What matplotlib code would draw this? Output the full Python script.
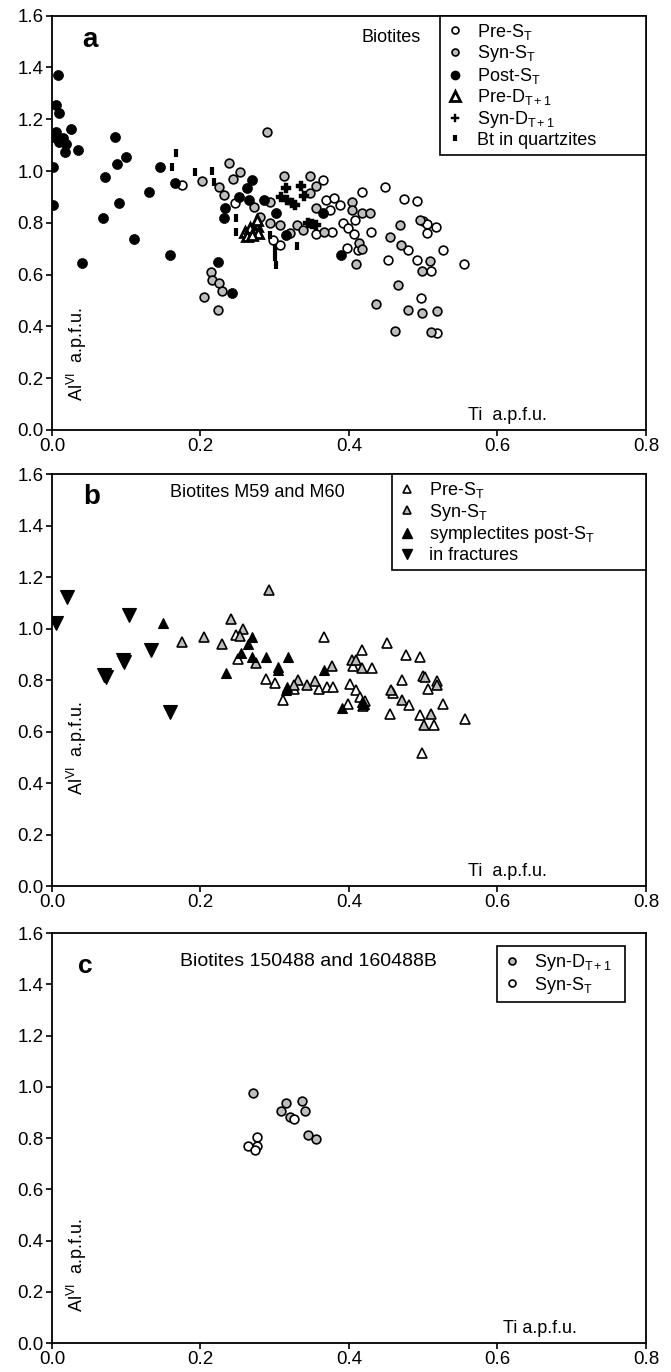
import matplotlib
matplotlib.use('Agg')
import matplotlib.pyplot as plt
from matplotlib.lines import Line2D
from matplotlib.ticker import FormatStrFormatter

plt.rcParams['font.family'] = ['Liberation Sans', 'DejaVu Sans']
plt.rcParams['mathtext.fontset'] = 'custom'
plt.rcParams['mathtext.rm'] = 'Liberation Sans'
plt.rcParams['mathtext.it'] = 'Liberation Sans:italic'
plt.rcParams['mathtext.bf'] = 'Liberation Sans:bold'

# ---------------- data: panel a ----------------
pre_st_a_x = [0.175, 0.247, 0.365, 0.417, 0.448, 0.369, 0.380, 0.388, 0.374, 0.408, 0.392, 0.399,
              0.407, 0.429, 0.356, 0.377, 0.397, 0.412, 0.453, 0.474, 0.492, 0.480, 0.492, 0.511,
              0.526, 0.555, 0.500, 0.505, 0.517, 0.497, 0.518, 0.307, 0.505, 0.297]
pre_st_a_y = [0.946, 0.875, 0.965, 0.920, 0.937, 0.888, 0.895, 0.869, 0.849, 0.811, 0.798, 0.779,
              0.757, 0.766, 0.756, 0.766, 0.702, 0.694, 0.656, 0.891, 0.884, 0.695, 0.656, 0.615,
              0.695, 0.641, 0.806, 0.759, 0.785, 0.508, 0.376, 0.716, 0.795, 0.735]

syn_st_a_x = [0.289, 0.238, 0.253, 0.244, 0.202, 0.225, 0.231, 0.272, 0.294, 0.280, 0.294, 0.307,
              0.312, 0.348, 0.356, 0.347, 0.356, 0.330, 0.338, 0.366, 0.321, 0.404, 0.404, 0.417,
              0.428, 0.413, 0.418, 0.410, 0.469, 0.455, 0.470, 0.509, 0.499, 0.466, 0.436, 0.480,
              0.499, 0.519, 0.462, 0.510, 0.214, 0.215, 0.225, 0.229, 0.205, 0.224, 0.495]
syn_st_a_y = [1.149, 1.030, 0.997, 0.968, 0.963, 0.937, 0.907, 0.862, 0.881, 0.824, 0.798, 0.792,
              0.981, 0.981, 0.942, 0.916, 0.856, 0.792, 0.772, 0.766, 0.759, 0.882, 0.849, 0.837,
              0.839, 0.721, 0.698, 0.641, 0.792, 0.746, 0.714, 0.654, 0.615, 0.560, 0.486, 0.463,
              0.450, 0.461, 0.383, 0.380, 0.611, 0.579, 0.566, 0.538, 0.515, 0.463, 0.811]

post_st_a_x = [0.008, 0.005, 0.010, 0.006, 0.002, 0.015, 0.025, 0.009, 0.019, 0.018, 0.035, 0.001,
               0.001, 0.040, 0.069, 0.090, 0.111, 0.159, 0.085, 0.071, 0.087, 0.100, 0.131, 0.145,
               0.166, 0.252, 0.262, 0.269, 0.266, 0.285, 0.302, 0.233, 0.232, 0.365, 0.315, 0.389,
               0.224, 0.243]
post_st_a_y = [1.371, 1.255, 1.223, 1.152, 1.132, 1.126, 1.161, 1.113, 1.105, 1.075, 1.081, 1.017,
               0.869, 0.646, 0.820, 0.875, 0.737, 0.676, 1.132, 0.978, 1.027, 1.053, 0.918, 1.017,
               0.952, 0.901, 0.933, 0.965, 0.888, 0.888, 0.839, 0.856, 0.817, 0.837, 0.753, 0.676,
               0.650, 0.530]

pre_dt1_a_x = [0.260, 0.267, 0.276, 0.273, 0.278, 0.262, 0.269, 0.276]
pre_dt1_a_y = [0.766, 0.779, 0.788, 0.766, 0.760, 0.749, 0.753, 0.810]

syn_dt1_a_x = [0.315, 0.309, 0.316, 0.323, 0.327, 0.335, 0.339, 0.345, 0.350, 0.355]
syn_dt1_a_y = [0.933, 0.901, 0.888, 0.875, 0.869, 0.942, 0.903, 0.800, 0.795, 0.790]

bt_qz_a_x = [0.167, 0.161, 0.193, 0.215, 0.218, 0.248, 0.248, 0.294, 0.330, 0.301, 0.302, 0.300]
bt_qz_a_y = [1.068, 1.017, 0.997, 1.000, 0.959, 0.817, 0.766, 0.753, 0.710, 0.669, 0.637, 0.700]

# ---------------- data: panel b ----------------
fract_b_x = [0.005, 0.020, 0.104, 0.070, 0.073, 0.095, 0.097, 0.134, 0.159]
fract_b_y = [1.021, 1.124, 1.054, 0.820, 0.812, 0.878, 0.870, 0.917, 0.676]

sympl_b_x = [0.149, 0.270, 0.264, 0.255, 0.269, 0.288, 0.318, 0.305, 0.304, 0.235, 0.366, 0.315,
             0.317, 0.391, 0.418, 0.420]
sympl_b_y = [1.023, 0.967, 0.941, 0.905, 0.891, 0.891, 0.891, 0.852, 0.840, 0.827, 0.840, 0.763,
             0.772, 0.691, 0.714, 0.706]

pre_st_b_x = [0.248, 0.251, 0.367, 0.288, 0.300, 0.359, 0.370, 0.379, 0.311, 0.326, 0.418, 0.406,
              0.431, 0.401, 0.410, 0.415, 0.421, 0.399, 0.451, 0.477, 0.495, 0.471, 0.500, 0.519,
              0.507, 0.459, 0.481, 0.455, 0.527, 0.495, 0.514, 0.556, 0.499]
pre_st_b_y = [0.975, 0.880, 0.967, 0.805, 0.788, 0.766, 0.774, 0.774, 0.722, 0.766, 0.917, 0.854,
              0.845, 0.784, 0.761, 0.733, 0.720, 0.706, 0.945, 0.898, 0.891, 0.800, 0.816, 0.796,
              0.766, 0.749, 0.703, 0.668, 0.706, 0.664, 0.625, 0.647, 0.518]

syn_st_b_x = [0.292, 0.241, 0.205, 0.229, 0.257, 0.253, 0.275, 0.331, 0.326, 0.343, 0.354, 0.377,
              0.404, 0.410, 0.418, 0.419, 0.502, 0.519, 0.457, 0.472, 0.511, 0.501, 0.175]
syn_st_b_y = [1.150, 1.038, 0.968, 0.940, 1.000, 0.970, 0.867, 0.800, 0.780, 0.781, 0.798, 0.854,
              0.876, 0.876, 0.845, 0.700, 0.810, 0.780, 0.761, 0.722, 0.668, 0.625, 0.949]

# ---------------- data: panel c ----------------
syn_dt1_c_x = [0.271, 0.315, 0.309, 0.337, 0.341, 0.321, 0.345, 0.356]
syn_dt1_c_y = [0.976, 0.935, 0.906, 0.945, 0.906, 0.883, 0.811, 0.796]
syn_st_c_x = [0.326, 0.276, 0.276, 0.264, 0.273]
syn_st_c_y = [0.874, 0.803, 0.768, 0.768, 0.752]

xticks = [0.0, 0.2, 0.4, 0.6, 0.8]
yticks = [0.0, 0.2, 0.4, 0.6, 0.8, 1.0, 1.2, 1.4, 1.6]

GRAY = '#bdbdbd'
ST = '$_\\mathregular{T}$'
DT = '$_\\mathregular{T+1}$'
YLAB = 'Al$^\\mathregular{VI}$  a.p.f.u.'
FS = 13

fig = plt.figure(figsize=(6.71, 13.72), dpi=100)
ax_a = fig.add_axes([0.0775, 0.6866, 0.8852, 0.302])
ax_b = fig.add_axes([0.0775, 0.3542, 0.8852, 0.3003])
ax_c = fig.add_axes([0.0775, 0.0211, 0.8852, 0.2988])


def style(ax):
    ax.set_xlim(0, 0.8)
    ax.set_ylim(0, 1.6)
    ax.set_xticks(xticks)
    ax.set_yticks(yticks)
    ax.xaxis.set_major_formatter(FormatStrFormatter('%.1f'))
    ax.yaxis.set_major_formatter(FormatStrFormatter('%.1f'))
    for s in ax.spines.values():
        s.set_linewidth(1.3)
    ax.tick_params(direction='out', length=4.5, width=1.2, labelsize=13.5, pad=1.5)


def mk(ax, x, y, **kw):
    ax.plot(x, y, ls='none', **kw)


def leg(ax, handles, labels, x0, w, top=1.0):
    lg = ax.legend(handles, labels, loc='upper left', bbox_to_anchor=(x0, 0, w, top),
                   mode='expand', borderaxespad=0, frameon=True, fancybox=False,
                   edgecolor='k', framealpha=1, fontsize=FS, handlelength=1.0,
                   handletextpad=0.75, labelspacing=0.09, borderpad=0.33)
    lg.get_frame().set_linewidth(1.2)
    return lg


def H(**kw):
    return Line2D([], [], ls='none', **kw)

# ---- panel a ----
ax = ax_a
style(ax)
circ = dict(marker='o', ms=6.3, mec='k', mew=1.2)
mk(ax, pre_st_a_x, pre_st_a_y, mfc='white', **circ)
mk(ax, syn_st_a_x, syn_st_a_y, mfc=GRAY, **circ)
mk(ax, post_st_a_x, post_st_a_y, marker='o', ms=7.2, mfc='k', mec='k', mew=0.5)
mk(ax, pre_dt1_a_x, pre_dt1_a_y, marker='^', ms=6.5, mfc='white', mec='k', mew=2)
mk(ax, syn_dt1_a_x, syn_dt1_a_y, marker='P', ms=6.5, mfc='k', mec='k', mew=0.3)
mk(ax, bt_qz_a_x, bt_qz_a_y, marker='|', ms=6, mec='k', mew=3)
hs = [H(marker='o', ms=5, mfc='white', mec='k', mew=1.2),
      H(marker='o', ms=5, mfc=GRAY, mec='k', mew=1.2),
      H(marker='o', ms=6, mfc='k', mec='k'),
      H(marker='^', ms=6.5, mfc='white', mec='k', mew=2),
      H(marker='P', ms=6, mfc='k', mec='k', mew=0.3),
      H(marker='|', ms=5, mec='k', mew=3)]
ls_ = ['Pre-S' + ST, 'Syn-S' + ST, 'Post-S' + ST, 'Pre-D' + DT, 'Syn-D' + DT, 'Bt in quartzites']
leg(ax, hs, ls_, 0.653, 0.347)
ax.text(0.064, 0.942, 'a', transform=ax.transAxes, fontsize=20, fontweight='bold', ha='center', va='center')
ax.text(0.62, 0.947, 'Biotites', transform=ax.transAxes, fontsize=FS, ha='right', va='center')
ax.text(0.70, 0.036, 'Ti  a.p.f.u.', transform=ax.transAxes, fontsize=FS, ha='left', va='center')
ax.text(0.042, 0.07, YLAB, transform=ax.transAxes, fontsize=FS, rotation=90, ha='center', va='bottom')

# ---- panel b ----
ax = ax_b
style(ax)
tri = dict(marker='^', ms=7.5, mec='k', mew=1.2)
mk(ax, pre_st_b_x, pre_st_b_y, mfc='white', **tri)
mk(ax, syn_st_b_x, syn_st_b_y, mfc=GRAY, **tri)
mk(ax, sympl_b_x, sympl_b_y, marker='^', ms=7.5, mfc='k', mec='k', mew=0.8)
mk(ax, fract_b_x, fract_b_y, marker='v', ms=9.5, mfc='k', mec='k', mew=0.8)
hs = [H(marker='^', ms=6, mfc='white', mec='k', mew=1.2),
      H(marker='^', ms=6, mfc=GRAY, mec='k', mew=1.2),
      H(marker='^', ms=7, mfc='k', mec='k'),
      H(marker='v', ms=7, mfc='k', mec='k')]
ls_ = ['Pre-S' + ST, 'Syn-S' + ST, 'symplectites post-S' + ST, 'in fractures']
leg(ax, hs, ls_, 0.572, 0.428)
ax.text(0.066, 0.944, 'b', transform=ax.transAxes, fontsize=20, fontweight='bold', ha='center', va='center')
ax.text(0.199, 0.954, 'Biotites M59 and M60', transform=ax.transAxes, fontsize=FS, ha='left', va='center')
ax.text(0.70, 0.036, 'Ti  a.p.f.u.', transform=ax.transAxes, fontsize=FS, ha='left', va='center')
ax.text(0.042, 0.22, YLAB, transform=ax.transAxes, fontsize=FS, rotation=90, ha='center', va='bottom')

# ---- panel c ----
ax = ax_c
style(ax)
mk(ax, syn_dt1_c_x, syn_dt1_c_y, mfc=GRAY, **circ)
mk(ax, syn_st_c_x, syn_st_c_y, mfc='white', **circ)
hs = [H(marker='o', ms=5, mfc=GRAY, mec='k', mew=1.2),
      H(marker='o', ms=5, mfc='white', mec='k', mew=1.2)]
ls_ = ['Syn-D' + DT, 'Syn-S' + ST]
leg(ax, hs, ls_, 0.749, 0.215, top=0.968)
ax.text(0.056, 0.92, 'c', transform=ax.transAxes, fontsize=19, fontweight='bold', ha='center', va='center')
ax.text(0.215, 0.93, 'Biotites 150488 and 160488B', transform=ax.transAxes, fontsize=14, ha='left', va='center')
ax.text(0.76, 0.036, 'Ti a.p.f.u.', transform=ax.transAxes, fontsize=FS, ha='left', va='center')
ax.text(0.042, 0.075, YLAB, transform=ax.transAxes, fontsize=FS, rotation=90, ha='center', va='bottom')

fig.savefig('out.png', dpi=100)
